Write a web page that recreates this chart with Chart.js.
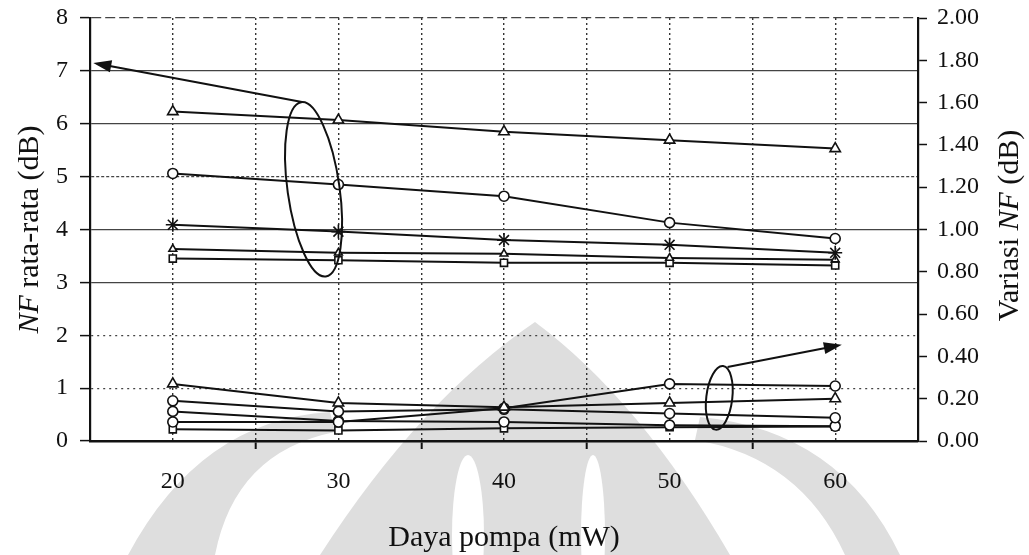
<!DOCTYPE html>
<html>
<head>
<meta charset="utf-8">
<title>NF rata-rata dan variasi NF terhadap daya pompa</title>
<script src="https://cdn.jsdelivr.net/npm/chart.js@4.4.1/dist/chart.umd.min.js"></script>
<style>
  html, body { margin: 0; padding: 0; background: #fff; }
  #wrap { width: 1029px; height: 555px; }
</style>
</head>
<body>
<div id="wrap"><canvas id="nfChart" width="1029" height="555"></canvas></div>
<script>
// pump power (mW)
const pumpPower = [20, 30, 40, 50, 60];

// average NF (dB) - left axis
const nfTriangle = [6.23, 6.07, 5.85, 5.69, 5.53];
const nfCircle   = [5.06, 4.85, 4.63, 4.13, 3.83];
const nfStar     = [4.09, 3.96, 3.80, 3.71, 3.56];
const nfSmallTri = [3.63, 3.56, 3.54, 3.46, 3.43];
const nfSquare   = [3.45, 3.42, 3.37, 3.37, 3.32];

// NF variation (dB) - right axis
const varTriangle = [0.27, 0.18, 0.16, 0.18, 0.20];
const varCircleA  = [0.09, 0.09, 0.155, 0.27, 0.26];
const varCircleB  = [0.19, 0.14, 0.15, 0.13, 0.11];
const varCircleC  = [0.14, 0.095, 0.09, 0.075, 0.07];
const varSquare   = [0.055, 0.05, 0.06, 0.065, 0.068];

const leftTicks = [0, 1, 2, 3, 4, 5, 6, 7, 8];
const rightTicks = [0, 0.2, 0.4, 0.6, 0.8, 1.0, 1.2, 1.4, 1.6, 1.8, 2.0];

const SERIF = '"Liberation Serif", "Times New Roman", serif';

const toPoints = (ys) => pumpPower.map((x, i) => ({ x: x, y: ys[i] }));

const makeSet = (label, ys, axis, style, radius) => ({
    label: label,
    data: toPoints(ys),
    yAxisID: axis,
    borderColor: '#111',
    borderWidth: 2,
    pointStyle: style,
    pointRadius: radius,
    pointBackgroundColor: '#fff',
    pointBorderColor: '#111',
    pointBorderWidth: 1.6,
    tension: 0
});

// faint watermark behind the plot
const watermark = {
    id: 'watermark',
    beforeDraw(chart) {
        const ctx = chart.ctx;
        ctx.save();
        ctx.fillStyle = '#dedede';
        // outer band
        ctx.beginPath();
        ctx.moveTo(128, 555);
        ctx.quadraticCurveTo(200, 420, 330, 412);
        ctx.lineTo(335, 432);
        ctx.quadraticCurveTo(235, 452, 215, 555);
        ctx.closePath();
        ctx.fill();
        ctx.beginPath();
        ctx.moveTo(900, 555);
        ctx.quadraticCurveTo(840, 430, 700, 417);
        ctx.lineTo(695, 440);
        ctx.quadraticCurveTo(800, 457, 845, 555);
        ctx.closePath();
        ctx.fill();
        // central dome
        ctx.beginPath();
        ctx.moveTo(320, 555);
        ctx.quadraticCurveTo(420, 400, 535, 322);
        ctx.quadraticCurveTo(640, 400, 730, 555);
        ctx.closePath();
        ctx.fill();
        ctx.fillStyle = '#fff';
        ctx.beginPath();
        ctx.ellipse(468, 535, 16, 80, 0, 0, Math.PI * 2);
        ctx.fill();
        ctx.beginPath();
        ctx.ellipse(593, 535, 12, 80, 0, 0, Math.PI * 2);
        ctx.fill();
        ctx.restore();
    }
};

// ellipses grouping the curves, with arrows pointing to their axis
const groupMarks = {
    id: 'groupMarks',
    afterDatasetsDraw(chart) {
        const ctx = chart.ctx;
        const sx = chart.scales.x, sl = chart.scales.y, sr = chart.scales.y2;
        const arrow = (x1, y1, x2, y2) => {
            const ang = Math.atan2(y2 - y1, x2 - x1);
            ctx.beginPath();
            ctx.moveTo(x1, y1);
            ctx.lineTo(x2 - 14 * Math.cos(ang), y2 - 14 * Math.sin(ang));
            ctx.stroke();
            ctx.beginPath();
            ctx.moveTo(x2, y2);
            ctx.lineTo(x2 - 18 * Math.cos(ang) + 6 * Math.sin(ang), y2 - 18 * Math.sin(ang) - 6 * Math.cos(ang));
            ctx.lineTo(x2 - 18 * Math.cos(ang) - 6 * Math.sin(ang), y2 - 18 * Math.sin(ang) + 6 * Math.cos(ang));
            ctx.closePath();
            ctx.fill();
        };
        ctx.save();
        ctx.strokeStyle = '#111';
        ctx.fillStyle = '#111';
        ctx.lineWidth = 2;
        // upper group (left axis)
        ctx.beginPath();
        ctx.ellipse(sx.getPixelForValue(28.5), sl.getPixelForValue(4.76), 26, 88, -0.14, 0, Math.PI * 2);
        ctx.stroke();
        arrow(sx.getPixelForValue(27.8), sl.getPixelForValue(6.41),
              sx.getPixelForValue(15.2), sl.getPixelForValue(7.15));
        // lower group (right axis)
        ctx.beginPath();
        ctx.ellipse(sx.getPixelForValue(53.0), sr.getPixelForValue(0.204), 13, 32, 0.12, 0, Math.PI * 2);
        ctx.stroke();
        arrow(sx.getPixelForValue(53.5), sr.getPixelForValue(0.35),
              sx.getPixelForValue(60.4), sr.getPixelForValue(0.455));
        ctx.restore();
    }
};

// axis titles with italic NF
const axisTitles = {
    id: 'axisTitles',
    afterDraw(chart) {
        const ctx = chart.ctx;
        const a = chart.chartArea;
        const italic = 'italic 30px ' + SERIF;
        const plain = '30px ' + SERIF;
        const vertical = (cx, cy, parts) => {
            ctx.save();
            ctx.translate(cx, cy);
            ctx.rotate(-Math.PI / 2);
            ctx.textBaseline = 'middle';
            ctx.textAlign = 'left';
            let total = 0;
            parts.forEach(p => { ctx.font = p[1]; total += ctx.measureText(p[0]).width; });
            let x = -total / 2;
            parts.forEach(p => {
                ctx.font = p[1];
                ctx.fillText(p[0], x, 0);
                x += ctx.measureText(p[0]).width;
            });
            ctx.restore();
        };
        ctx.save();
        ctx.fillStyle = '#111';
        ctx.font = plain;
        ctx.textAlign = 'center';
        ctx.textBaseline = 'alphabetic';
        ctx.fillText('Daya pompa (mW)', (a.left + a.right) / 2, 546);
        vertical(30, (a.top + a.bottom) / 2, [['NF', italic], [' rata-rata (dB)', plain]]);
        vertical(1010, (a.top + a.bottom) / 2 - 4, [['Variasi ', plain], ['NF', italic], [' (dB)', plain]]);
        ctx.restore();
    }
};

const leftGridDash = (v) => {
    if (v === 1 || v === 2) return [2, 4];
    if (v === 5) return [3, 2];
    if (v === 8) return [10, 4];
    return [];
};

// fixed axis box sizes so the plot area lands at 90..918 x 18..441
const fixVertical = (w) => (s) => {
    s.width = w;
    s.paddingTop = 0;
    s.paddingBottom = 0;
};

new Chart(document.getElementById('nfChart'), {
    type: 'line',
    data: {
        datasets: [
            makeSet('NF segitiga', nfTriangle, 'y', 'triangle', 6),
            makeSet('NF lingkaran', nfCircle, 'y', 'circle', 5),
            makeSet('NF bintang', nfStar, 'y', 'star', 7),
            makeSet('NF segitiga kecil', nfSmallTri, 'y', 'triangle', 4.5),
            makeSet('NF kotak', nfSquare, 'y', 'rect', 5),
            makeSet('Variasi segitiga', varTriangle, 'y2', 'triangle', 6),
            makeSet('Variasi lingkaran A', varCircleA, 'y2', 'circle', 5),
            makeSet('Variasi lingkaran B', varCircleB, 'y2', 'circle', 5),
            makeSet('Variasi lingkaran C', varCircleC, 'y2', 'circle', 5),
            makeSet('Variasi kotak', varSquare, 'y2', 'rect', 5)
        ]
    },
    options: {
        responsive: false,
        devicePixelRatio: 1,
        animation: false,
        layout: { padding: { top: 18, left: 0, right: 0, bottom: 0 } },
        plugins: {
            legend: { display: false },
            tooltip: { enabled: false }
        },
        scales: {
            x: {
                type: 'linear',
                min: 15,
                max: 65,
                afterFit: (s) => { s.height = 114; s.paddingLeft = 0; s.paddingRight = 0; },
                afterBuildTicks: (s) => {
                    s.ticks = [15, 20, 25, 30, 35, 40, 45, 50, 55, 60, 65].map(v => ({ value: v }));
                },
                ticks: {
                    autoSkip: false,
                    maxRotation: 0,
                    padding: 18,
                    color: '#111',
                    font: { family: SERIF, size: 24 },
                    callback: (v) => (pumpPower.includes(v) ? String(v) : '')
                },
                grid: {
                    color: '#333',
                    lineWidth: 1.4,
                    tickLength: 8,
                    tickColor: (c) => (c.tick && c.tick.value % 10 === 5 && c.tick.value > 15 && c.tick.value < 65 ? '#111' : 'rgba(0,0,0,0)'),
                    tickWidth: 2
                },
                border: { display: true, color: '#111', width: 2.5, dash: [2, 3] }
            },
            y: {
                position: 'left',
                min: 0,
                max: 8,
                afterFit: fixVertical(90),
                afterBuildTicks: (s) => { s.ticks = leftTicks.map(v => ({ value: v })); },
                ticks: {
                    padding: 12,
                    color: '#111',
                    font: { family: SERIF, size: 24 }
                },
                grid: {
                    color: '#444',
                    lineWidth: 1.2,
                    tickLength: 10,
                    tickColor: '#111',
                    tickWidth: 1.5
                },
                border: {
                    display: true, color: '#111', width: 2.2,
                    dash: (c) => (c.tick ? leftGridDash(c.tick.value) : [])
                }
            },
            y2: {
                position: 'right',
                min: 0,
                max: 2,
                afterFit: fixVertical(111),
                afterBuildTicks: (s) => { s.ticks = rightTicks.map(v => ({ value: v })); },
                ticks: {
                    padding: 10,
                    color: '#111',
                    font: { family: SERIF, size: 24 },
                    callback: (v) => Number(v).toFixed(2)
                },
                grid: {
                    drawOnChartArea: false,
                    tickLength: 9,
                    tickColor: '#111',
                    tickWidth: 1.5
                },
                border: { display: true, color: '#111', width: 2.2 }
            }
        }
    },
    plugins: [watermark, groupMarks, axisTitles]
});
</script>
</body>
</html>
